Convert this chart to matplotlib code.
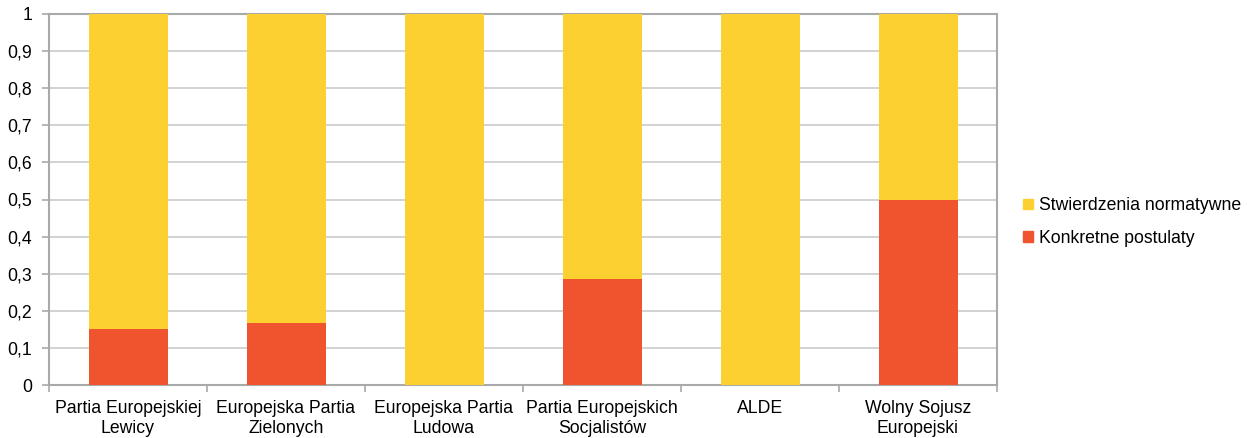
import matplotlib
matplotlib.use("Agg")
import matplotlib.pyplot as plt
from matplotlib.ticker import FuncFormatter, FixedLocator
from matplotlib.patches import Patch

categories = ["Partia Europejskiej\nLewicy", "Europejska Partia\nZielonych", "Europejska Partia\nLudowa",
              "Partia Europejskich\nSocjalistów", "ALDE", "Wolny Sojusz\nEuropejski"]
konkretne = [0.15, 1/6, 0.0, 2/7, 0.0, 0.5]
stwierdzenia = [1 - v for v in konkretne]
series_names = ["Stwierdzenia normatywne", "Konkretne postulaty"]
yticks = [0, 0.1, 0.2, 0.3, 0.4, 0.5, 0.6, 0.7, 0.8, 0.9, 1.0]

plt.rcParams['font.family'] = ['Liberation Sans', 'DejaVu Sans']
YELLOW = "#FDD032"
RED = "#F0542F"
GRID = "#C9CBCB"
SPINE = "#A8AAAA"
FS = 12.7

fig = plt.figure(figsize=(12.47, 4.38), dpi=100)
ax = fig.add_axes([49/1247, 1 - 385/438, (997 - 49)/1247, (385 - 14)/438])

x = list(range(len(categories)))
ax.bar(x, konkretne, width=0.5, color=RED, zorder=3)
ax.bar(x, stwierdzenia, width=0.5, bottom=konkretne, color=YELLOW, zorder=3)

ax.set_xlim(-0.5, len(categories) - 0.5)
ax.set_ylim(0, 1)
ax.set_yticks(yticks)
ax.yaxis.set_major_formatter(FuncFormatter(lambda v, p: "0" if v == 0 else ("1" if v == 1 else f"{v:.1f}".replace(".", ","))))
ax.grid(axis='y', color=GRID, linewidth=1.2, zorder=0)
ax.set_axisbelow(True)

ax.set_xticks(x)
ax.set_xticklabels(categories, fontsize=FS, linespacing=1.22)
ax.tick_params(axis='x', length=0, pad=11)
ax.xaxis.set_minor_locator(FixedLocator([i - 0.5 for i in range(len(categories) + 1)]))
ax.tick_params(axis='x', which='minor', length=5, color=SPINE, width=1.2)
ax.tick_params(axis='y', length=5, color=SPINE, width=1.2, labelsize=FS, pad=7)

for s in ax.spines.values():
    s.set_color(SPINE)
    s.set_linewidth(1.5)

handles = [Patch(color=YELLOW), Patch(color=RED)]
fig.legend(handles, series_names, loc='center left', bbox_to_anchor=(1007/1247, 1 - 222/438),
           frameon=False, fontsize=FS, handlelength=0.55, handleheight=0.55, handletextpad=0.35,
           labelspacing=0.9)

fig.savefig("out.png", dpi=100)
